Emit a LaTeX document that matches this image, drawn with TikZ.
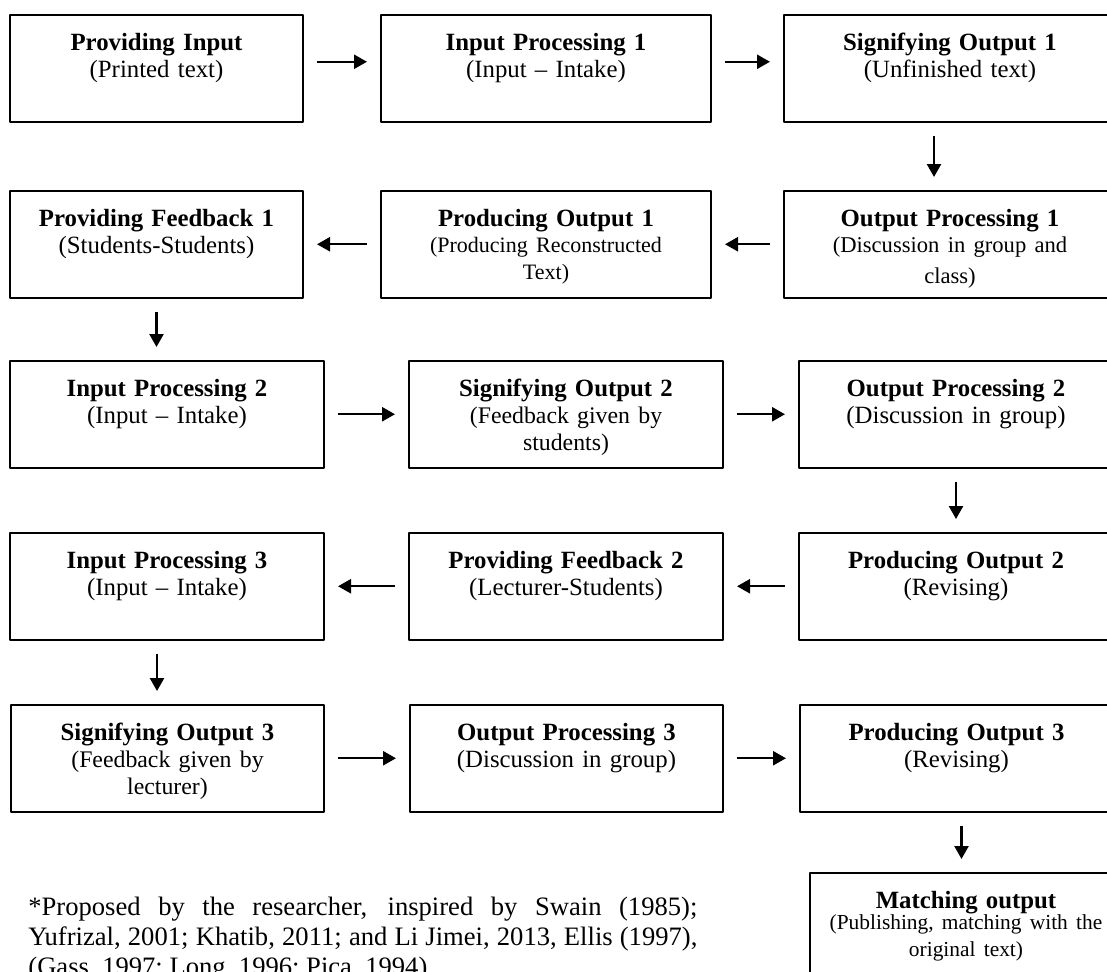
\documentclass[tikz,border=0pt]{standalone}
\usepackage{fontspec}
\setmainfont{Liberation Serif}
\usetikzlibrary{arrows.meta}

\begin{document}
\begin{tikzpicture}[x=0.5pt, y=-0.5pt, line join=round,
  box/.style={draw, line width=1pt, anchor=north west, inner sep=0pt, align=center,
    text height=17.5pt, text depth=35.75pt, font=\fontsize{12.4}{13.5}\selectfont},
  arr/.style={-{Triangle[length=6.5pt,width=7pt]}, line width=1.2pt, shorten <=6.5pt, shorten >=6.5pt}]
\def\pad{\hspace*{19pt}}
\useasboundingbox (0,0) rectangle (1107,971);
\clip (0,0) rectangle (1107,971);
% row 1
\node[box, text width=146.5pt] (pin) at (9,14) {\textbf{Providing Input}\\(Printed text)};
\node[box, text width=165pt] (ip1) at (380,14) {\textbf{Input Processing 1}\\(Input -- Intake)};
\node[box, text width=166pt] (so1) at (783,14) {\textbf{Signifying Output 1}\pad\\(Unfinished text)\pad};
% row 2
\node[box, text width=146.5pt] (pf1) at (9,190) {\textbf{Providing Feedback 1}\\(Students-Students)};
\node[box, text width=165pt] (po1) at (380,190) {\textbf{Producing Output 1}\\{\fontsize{11}{13}\selectfont(Producing Reconstructed\\Text)}};
\node[box, text width=166pt] (op1) at (783,190) {\textbf{Output Processing 1}\pad\\{\fontsize{11.3}{13}\selectfont(Discussion in group and\pad\\[2pt]class)\pad}};
% row 3
\node[box, text width=157pt] (ip2) at (9,360) {\textbf{Input Processing 2}\\(Input -- Intake)};
\node[box, text width=157pt] (so2) at (408,360) {\textbf{Signifying Output 2}\\{\fontsize{11.9}{13.5}\selectfont(Feedback given by\\students)}};
\node[box, text width=157pt] (op2) at (798,360) {\textbf{Output Processing 2}\\(Discussion in group)};
% row 4
\node[box, text width=157pt] (ip3) at (9,532) {\textbf{Input Processing 3}\\(Input -- Intake)};
\node[box, text width=157pt] (pf2) at (408,532) {\textbf{Providing Feedback 2}\\(Lecturer-Students)};
\node[box, text width=157pt] (po2) at (798,532) {\textbf{Producing Output 2}\\(Revising)};
% row 5
\node[box, text width=156.5pt] (so3) at (10,704) {\textbf{Signifying Output 3}\\{\fontsize{11.9}{13.5}\selectfont(Feedback given by\\lecturer)}};
\node[box, text width=156.5pt] (op3) at (409,704) {\textbf{Output Processing 3}\\(Discussion in group)};
\node[box, text width=156.5pt] (po3) at (799,704) {\textbf{Producing Output 3}\\(Revising)};
\node[box, text width=156pt] (match) at (809,872) {\textbf{Matching output}\\[-1pt]{\fontsize{10.7}{11.5}\selectfont(Publishing, matching with the\\original text)}};
% arrows
\draw[arr] ([yshift=3.25pt]pin.east) -- ([yshift=3.25pt]ip1.west);
\draw[arr] ([yshift=3.25pt]ip1.east) -- ([yshift=3.25pt]so1.west);
\draw[arr] ([xshift=-8pt]so1.south) -- ([xshift=-8pt]op1.north);
\draw[arr] (op1.west) -- (po1.east);
\draw[arr] (po1.west) -- (pf1.east);
\draw[arr] (pf1.south) -- (pf1.south |- ip2.north);
\draw[arr] (ip2.east) -- (so2.west);
\draw[arr] (so2.east) -- (op2.west);
\draw[arr] (op2.south) -- (po2.north);
\draw[arr] (po2.west) -- (pf2.east);
\draw[arr] (pf2.west) -- (ip3.east);
\draw[arr] ([xshift=-5pt]ip3.south) -- ([xshift=-5pt]ip3.south |- so3.north);
\draw[arr] (so3.east) -- (op3.west);
\draw[arr] (op3.east) -- (po3.west);
\draw[arr] ([xshift=2.5pt]po3.south) -- ([xshift=2.5pt]po3.south |- match.north);
% footnote
\node[anchor=base west, text width=334.5pt, align=justify, inner sep=0pt, font=\fontsize{13.3}{15}\selectfont] (note) at (28,915) {*Proposed by the researcher, inspired by Swain (1985);\linebreak Yufrizal, 2001; Khatib, 2011; and Li Jimei, 2013, Ellis (1997),\linebreak (Gass, 1997; Long, 1996; Pica, 1994).};
\end{tikzpicture}
\end{document}
